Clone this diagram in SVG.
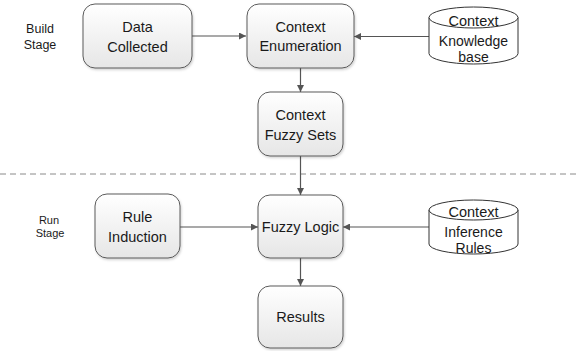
<svg xmlns="http://www.w3.org/2000/svg" width="577" height="351" viewBox="0 0 577 351">
<style>
.box{fill:url(#g);stroke:#5a5a5a;stroke-width:1}
.cyl{fill:#fff;stroke:#333;stroke-width:1}
.t{font-family:"Liberation Sans",Arial,sans-serif;font-size:14.5px;fill:#1a1a1a;text-anchor:middle}
.k{font-size:14px}
.s{font-family:"Liberation Sans",Arial,sans-serif;fill:#1a1a1a;text-anchor:middle}
.c{stroke:#555;stroke-width:1.2;fill:none;marker-end:url(#a)}
</style>
<defs>
<linearGradient id="g" x1="0" y1="0" x2="0" y2="1">
<stop offset="0" stop-color="#ffffff"/>
<stop offset="1" stop-color="#e6e6e6"/>
</linearGradient>
<filter id="sh" x="-10%" y="-10%" width="130%" height="130%">
<feDropShadow dx="1" dy="1.5" stdDeviation="1.2" flood-color="#000" flood-opacity="0.18"/>
</filter>
<marker id="a" viewBox="0 0 10 10" refX="10" refY="5" markerWidth="7" markerHeight="7" markerUnits="userSpaceOnUse" orient="auto">
<path d="M0,0 L10,5 L0,10 z" fill="#555"/>
</marker>
</defs>
<rect width="577" height="351" fill="#fff"/>
<g id="labels">
<text class="s" font-size="12.5" x="40" y="33">Build</text>
<text class="s" font-size="12.5" x="40" y="49">Stage</text>
<text class="s" font-size="11" x="49" y="224">Run</text>
<text class="s" font-size="11" x="50" y="237">Stage</text>
</g>
<line x1="0" y1="174" x2="577" y2="174" stroke="#8a8a8a" stroke-width="1" stroke-dasharray="6 4"/>
<g id="connectors">
<line class="c" x1="192" y1="36" x2="246" y2="36"/>
<line class="c" x1="429" y1="36.5" x2="354" y2="36.5"/>
<line class="c" x1="300.5" y1="68" x2="300.5" y2="92"/>
<line class="c" x1="300.5" y1="156" x2="300.5" y2="195"/>
<line class="c" x1="180" y1="227" x2="258" y2="227"/>
<line class="c" x1="429" y1="227" x2="343" y2="227"/>
<line class="c" x1="300.5" y1="258" x2="300.5" y2="286"/>
</g>
<g id="data-collected">
<rect class="box" filter="url(#sh)" x="83" y="4" width="109" height="64" rx="12"/>
<text class="t" x="137.5" y="31.5">Data</text>
<text class="t" x="137.5" y="51.5">Collected</text>
</g>
<g id="context-enumeration">
<rect class="box" filter="url(#sh)" x="247" y="4" width="107" height="64" rx="12"/>
<text class="t" x="300.5" y="31.5">Context</text>
<text class="t" x="300.5" y="51">Enumeration</text>
</g>
<g id="knowledge-base">
<path class="cyl" d="M429,17.5 L429,53.5 A44.5,10.5 0 0 0 518,53.5 L518,17.5"/>
<ellipse class="cyl" cx="473.5" cy="17.5" rx="44.5" ry="10.5"/>
<text class="t" x="473.5" y="26">Context</text>
<text class="t k" x="473.5" y="46">Knowledge</text>
<text class="t k" x="473.5" y="62">base</text>
</g>
<g id="context-fuzzy-sets">
<rect class="box" filter="url(#sh)" x="258" y="92" width="85" height="64" rx="12"/>
<text class="t" x="300.5" y="120">Context</text>
<text class="t" x="300.5" y="140">Fuzzy Sets</text>
</g>
<g id="rule-induction">
<rect class="box" filter="url(#sh)" x="95" y="194" width="85" height="64" rx="12"/>
<text class="t" x="137.5" y="222">Rule</text>
<text class="t" x="137.5" y="242">Induction</text>
</g>
<g id="fuzzy-logic">
<rect class="box" filter="url(#sh)" x="258" y="195" width="85" height="63" rx="12"/>
<text class="t" x="300.5" y="232">Fuzzy Logic</text>
</g>
<g id="inference-rules">
<path class="cyl" d="M429,210 L429,244 A44.5,10 0 0 0 518,244 L518,210"/>
<ellipse class="cyl" cx="473.5" cy="210" rx="44.5" ry="10"/>
<text class="t" x="473.5" y="217">Context</text>
<text class="t k" x="473.5" y="237">Inference</text>
<text class="t k" x="473.5" y="253">Rules</text>
</g>
<g id="results">
<rect class="box" filter="url(#sh)" x="258" y="286" width="85" height="62" rx="12"/>
<text class="t" x="300.5" y="322">Results</text>
</g>
</svg>
